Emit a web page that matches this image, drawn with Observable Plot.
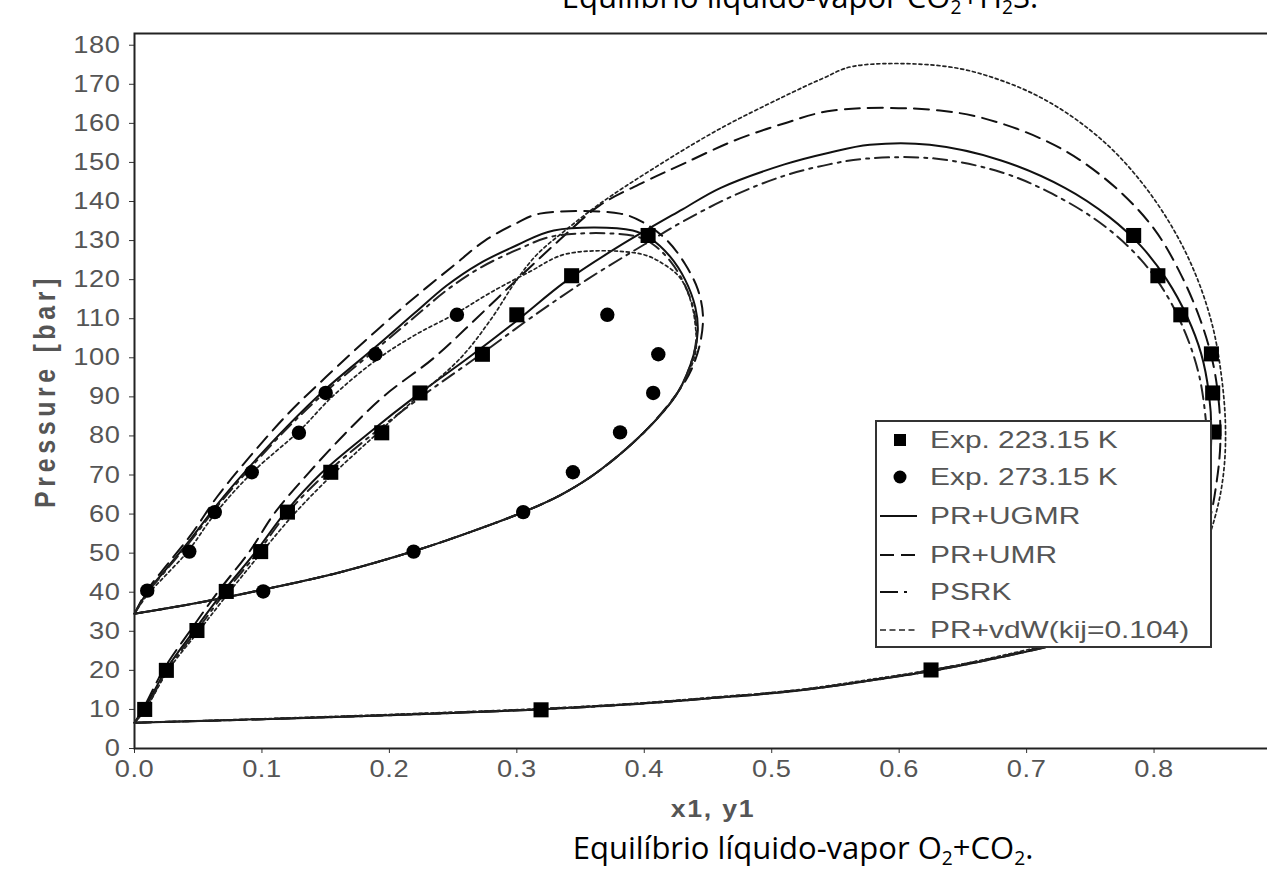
<!DOCTYPE html>
<html><head><meta charset="utf-8">
<script src="https://cdn.jsdelivr.net/npm/d3@7"></script>
<script src="https://cdn.jsdelivr.net/npm/@observablehq/plot@0.6"></script>
<style>
html,body{margin:0;padding:0;background:#fff;}
#wrap{position:relative;width:1267px;height:886px;overflow:hidden;background:#fff;}
#chart{position:absolute;left:0;top:0;width:1300px;}
#chart svg{max-width:none !important;}
.cap{position:absolute;font-family:"Open Sans",sans-serif;color:#000;white-space:nowrap;transform:translateX(-50%);line-height:1;font-size:31px;z-index:5;}
.cap sub{font-size:0.62em;vertical-align:-0.3em;line-height:0;}
#legend{position:absolute;left:875px;top:420px;width:337px;height:228px;box-sizing:border-box;border:2px solid #333;background:#fff;z-index:4;}
.row{position:absolute;left:0;height:30px;width:330px;}
.row svg{position:absolute;left:0;top:0;}
.row span{position:absolute;left:53px;top:0;line-height:30px;font-family:"Liberation Sans",Arial,sans-serif;font-size:24.5px;color:#555;white-space:nowrap;display:inline-block;transform:scaleX(1.22);transform-origin:left center;}
</style>
</head><body>
<div id="wrap">
  <div id="chart"></div>
  <div class="cap" style="left:800px;top:-19px;">Equilíbrio líquido-vapor CO<sub>2</sub>+H<sub>2</sub>S.</div>
  <div id="legend"></div>
  <div class="cap" style="left:803px;top:832px;">Equilíbrio líquido-vapor O<sub>2</sub>+CO<sub>2</sub>.</div>
</div>
<script>
// ---- tick labels ----
const xTicks = [0, 0.1, 0.2, 0.3, 0.4, 0.5, 0.6, 0.7, 0.8];
const yTicks = [0, 10, 20, 30, 40, 50, 60, 70, 80, 90, 100, 110, 120, 130, 140, 150, 160, 170, 180];

// ---- experimental points [x1 or y1, P (bar)] ----
const exp223 = [[0.008,10],[0.025,20],[0.049,30.2],[0.072,40.2],[0.099,50.4],[0.12,60.5],[0.154,70.7],[0.194,80.8],[0.224,91],[0.273,100.9],[0.3,111],[0.343,121],[0.403,131.3],[0.319,9.9],[0.625,20.1],[0.784,131.3],[0.803,121],[0.821,111],[0.845,101],[0.846,91],[0.847,81]];
const exp273 = [[0.01,40.4],[0.043,50.4],[0.063,60.5],[0.092,70.7],[0.129,80.8],[0.15,91],[0.189,100.9],[0.253,111],[0.101,40.2],[0.219,50.4],[0.305,60.5],[0.344,70.7],[0.381,80.9],[0.407,91],[0.411,100.9],[0.371,111]];

// ---- model envelopes, 223.15 K ----
const ugmr223 = [[0,6.6],[0.008,10.3],[0.025,20.3],[0.047,30.3],[0.07,40.3],[0.095,50.3],[0.118,60.3],[0.146,70.3],[0.183,80.5],[0.222,90.5],[0.262,100],[0.3,109.5],[0.338,119.5],[0.38,128.5],[0.43,138],[0.46,143.5],[0.51,149.5],[0.545,152.5],[0.577,154.5],[0.624,154.5],[0.68,150.5],[0.73,143.5],[0.765,136],[0.79,128.5],[0.81,120],[0.826,110.5],[0.837,101],[0.843,91],[0.845,81],[0.843,70],[0.837,60],[0.825,50],[0.805,40],[0.775,32],[0.74,28],[0.7,24.8],[0.66,22],[0.625,19.8],[0.58,17.5],[0.52,14.8],[0.45,12.8],[0.39,11.3],[0.319,10],[0.25,9.1],[0.2,8.5],[0.1,7.5],[0,6.6]];
const umr223 = [[0,6.6],[0.007,10.3],[0.023,20.3],[0.044,30.3],[0.066,40.3],[0.09,50.3],[0.11,60.3],[0.136,70.3],[0.165,80.5],[0.195,90],[0.235,100],[0.268,110],[0.3,120],[0.333,130],[0.365,139],[0.4,145],[0.431,149.7],[0.47,155.5],[0.509,159.9],[0.548,163.3],[0.632,163.3],[0.68,160],[0.73,153],[0.77,143.5],[0.8,133],[0.82,122],[0.836,110],[0.846,99],[0.851,88],[0.852,78],[0.849,68],[0.843,58],[0.83,48],[0.81,40],[0.78,32.5],[0.74,28],[0.7,25],[0.66,22.2],[0.625,20],[0.58,17.6],[0.52,14.9],[0.45,12.9],[0.39,11.4],[0.319,10.1],[0.25,9.2],[0.2,8.6],[0.1,7.5],[0,6.6]];
const psrk223 = [[0,6.6],[0.009,10.3],[0.026,20.3],[0.049,30.3],[0.072,40.3],[0.097,50.3],[0.12,60.3],[0.15,70.3],[0.187,80.5],[0.227,90.5],[0.268,100],[0.31,110],[0.355,120],[0.4,129],[0.431,135],[0.47,141.5],[0.509,146.5],[0.545,149.5],[0.575,151],[0.628,151],[0.68,147.5],[0.72,142],[0.76,134],[0.79,125],[0.81,116],[0.825,106],[0.835,96],[0.84,86],[0.842,76],[0.84,66],[0.833,56],[0.82,47],[0.8,39],[0.77,31.5],[0.735,27.5],[0.7,24.8],[0.66,22],[0.625,19.8],[0.58,17.5],[0.52,14.8],[0.45,12.8],[0.39,11.3],[0.319,10],[0.25,9.1],[0.2,8.5],[0.1,7.5],[0,6.6]];
const vdw223 = [[0,6.6],[0.009,10.3],[0.027,20.3],[0.051,30.3],[0.075,40.3],[0.1,50.3],[0.126,60.3],[0.156,70.3],[0.19,80.5],[0.222,90],[0.256,100],[0.28,110],[0.3,120],[0.316,126.5],[0.338,132.6],[0.365,139.4],[0.405,148],[0.457,158.2],[0.509,166.8],[0.54,171.5],[0.564,174.6],[0.636,174.6],[0.68,171],[0.72,165],[0.76,155.5],[0.79,145],[0.815,133],[0.833,121],[0.846,108],[0.853,95],[0.856,83],[0.855,72],[0.85,62],[0.84,52],[0.822,43],[0.795,35],[0.755,29],[0.7,25.2],[0.66,22.3],[0.625,20.1],[0.58,17.8],[0.52,15],[0.45,13],[0.39,11.5],[0.319,10.2],[0.25,9.3],[0.2,8.7],[0.1,7.6],[0,6.6]];

// ---- model envelopes, 273.15 K ----
const ugmr273 = [[0,34.5],[0.01,40],[0.025,46],[0.045,54],[0.065,62.5],[0.09,72],[0.12,82.5],[0.15,92],[0.19,103],[0.22,111.5],[0.245,118.5],[0.27,124],[0.3,128.8],[0.329,132.6],[0.391,132.6],[0.405,130.5],[0.42,126],[0.432,120],[0.44,113],[0.442,107],[0.439,101],[0.426,91],[0.4,81],[0.363,70.7],[0.335,65],[0.305,60.5],[0.26,55],[0.22,50.6],[0.16,45],[0.1,40.6],[0.05,37.3],[0,34.5]];
const umr273 = [[0,34.5],[0.01,40.5],[0.025,46.8],[0.045,55],[0.065,64.5],[0.09,74.5],[0.12,85.5],[0.15,95],[0.19,107],[0.22,115.5],[0.25,123.5],[0.275,130],[0.3,134.5],[0.318,136.9],[0.381,136.9],[0.4,134.5],[0.418,130],[0.432,124],[0.442,117.5],[0.446,111],[0.444,104],[0.437,97],[0.427,91.5],[0.4,81],[0.363,70.7],[0.335,65],[0.305,60.5],[0.26,55],[0.22,50.6],[0.16,45],[0.1,40.6],[0.05,37.3],[0,34.5]];
const psrk273 = [[0,34.5],[0.01,39.8],[0.025,45.7],[0.045,53.5],[0.065,62],[0.09,71.5],[0.12,82],[0.15,91.3],[0.19,102.3],[0.22,110.5],[0.245,117.3],[0.27,122.8],[0.3,127.6],[0.33,131.2],[0.392,131.2],[0.407,129],[0.421,124.5],[0.432,118.5],[0.439,112],[0.441,106],[0.438,100],[0.426,91],[0.4,81],[0.363,70.7],[0.335,65],[0.305,60.5],[0.26,55],[0.22,50.6],[0.16,45],[0.1,40.6],[0.05,37.3],[0,34.5]];
const vdw273 = [[0,34.5],[0.01,39.3],[0.025,44.5],[0.042,50.5],[0.063,60],[0.092,70.5],[0.13,81.5],[0.155,90],[0.19,99.5],[0.22,105.8],[0.253,111.5],[0.28,116.8],[0.31,122],[0.339,126.6],[0.397,126.6],[0.415,124],[0.428,120.5],[0.436,115],[0.44,108.5],[0.44,101],[0.426,91],[0.4,81],[0.363,70.7],[0.335,65],[0.305,60.5],[0.26,55],[0.22,50.6],[0.16,45],[0.1,40.6],[0.05,37.3],[0,34.5]];

// ---- legend labels ----
const legendLabels = ["Exp. 223.15 K", "Exp. 273.15 K", "PR+UGMR", "PR+UMR", "PSRK", "PR+vdW(kij=0.104)"];

const styles = {
  ugmr: {stroke: "#111", strokeWidth: 2},
  umr:  {stroke: "#111", strokeWidth: 2, strokeDasharray: "15,8"},
  psrk: {stroke: "#222", strokeWidth: 2, strokeDasharray: "14,6,3,6"},
  vdw:  {stroke: "#222", strokeWidth: 1.7, strokeDasharray: "3,3"}
};
const X = d => d[0], Y = d => d[1];
const ln = (data, st) => Plot.line(data, {x: X, y: Y, curve: "catmull-rom", ...st});

const chart = Plot.plot({
  width: 1300, height: 886,
  marginTop: 33, marginBottom: 138, marginLeft: 134, marginRight: 19,
  x: {domain: [0, 0.9]},
  y: {domain: [0, 183]},
  style: {fontFamily: "'Liberation Sans', Arial, sans-serif", fontSize: "23.5px", background: "white", maxWidth: "none"},
  marks: [
    Plot.axisY({ticks: yTicks, tickSize: 5, tickPadding: 9, label: null, stroke: "#333", fill: "#555"}),
    Plot.axisX({ticks: xTicks, tickFormat: d => d.toFixed(1), tickSize: 5, tickPadding: 7, label: null, stroke: "#333", fill: "#555"}),
    ln(ugmr223, styles.ugmr), ln(umr223, styles.umr), ln(psrk223, styles.psrk), ln(vdw223, styles.vdw),
    ln(ugmr273, styles.ugmr), ln(umr273, styles.umr), ln(psrk273, styles.psrk), ln(vdw273, styles.vdw),
    Plot.dot(exp223, {x: X, y: Y, symbol: "square", r: 8.5, fill: "black", stroke: "none"}),
    Plot.dot(exp273, {x: X, y: Y, symbol: "circle", r: 7.2, fill: "black", stroke: "none"}),
    Plot.text(["x1, y1"], {frameAnchor: "bottom", dy: 68, dx: 5, textAnchor: "middle", fontWeight: "bold", fill: "#555", fontSize: 23}),
    Plot.text(["Pressure [bar]"], {frameAnchor: "left", dx: -89, rotate: -90, textAnchor: "middle", fontWeight: "bold", fill: "#555", fontSize: 25}),
    Plot.frame({stroke: "#222", strokeWidth: 2})
  ]
});
chart.style.maxWidth = "none";
document.getElementById("chart").appendChild(chart);

// horizontally stretch chart text like the reference image
chart.querySelectorAll("text").forEach(t => {
  let tr = t.getAttribute("transform") || "";
  const xa = t.getAttribute("x");
  if (xa !== null && !isNaN(+xa)) {
    tr += ` translate(${+xa},0)`;
    t.removeAttribute("x");
  }
  const rotated = tr.includes("rotate");
  t.setAttribute("transform", tr + (rotated ? " scale(1,1.16)" : " scale(1.16,1)"));
  const txt = t.textContent;
  t.style.letterSpacing = txt === "Pressure [bar]" ? "4.6px" : txt === "x1, y1" ? "1.5px" : "0.5px";
});

// legend
const legend = document.getElementById("legend");
const centers = [18, 55, 94, 133, 170, 208];
const symbols = [
  '<rect x="17" y="9" width="12" height="12" fill="#000"/>',
  '<circle cx="23" cy="15" r="6.5" fill="#000"/>',
  '<line x1="3" y1="15" x2="40" y2="15" stroke="#111" stroke-width="2"/>',
  '<line x1="3" y1="15" x2="40" y2="15" stroke="#111" stroke-width="2" stroke-dasharray="14,7"/>',
  '<line x1="3" y1="15" x2="40" y2="15" stroke="#111" stroke-width="2" stroke-dasharray="18,6,3,20"/>',
  '<line x1="3" y1="15" x2="40" y2="15" stroke="#222" stroke-width="1.7" stroke-dasharray="6,3.5"/>'
];
legendLabels.forEach((lab, i) => {
  const row = document.createElement("div");
  row.className = "row";
  row.style.top = (centers[i] - 15) + "px";
  row.innerHTML = `<svg width="46" height="30">${symbols[i]}</svg>`;
  const sp = document.createElement("span");
  sp.textContent = lab;
  row.appendChild(sp);
  legend.appendChild(row);
});
</script>
</body></html>
